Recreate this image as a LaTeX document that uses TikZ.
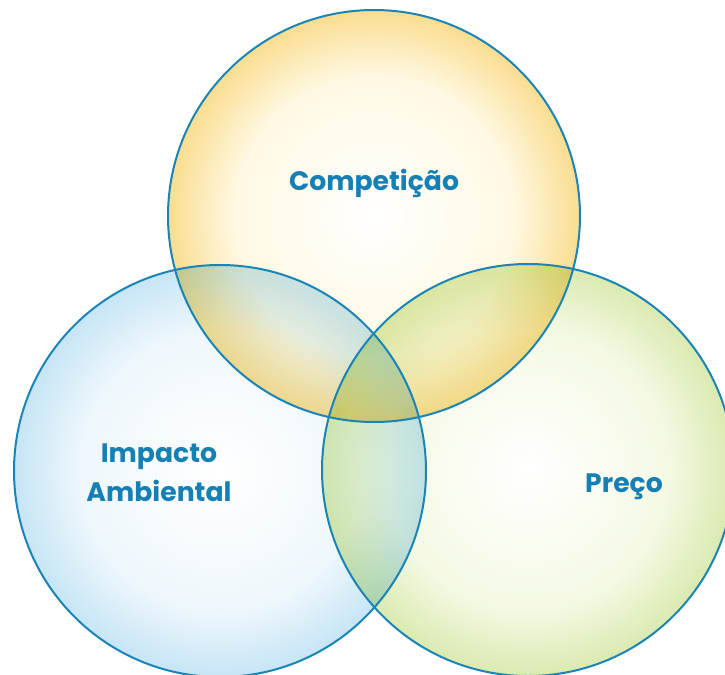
\documentclass[tikz,border=0pt]{standalone}
\usepackage{fontspec}
\setsansfont{Poppins}
\usetikzlibrary{positioning}

\definecolor{rimblue}{HTML}{1A84B6}
\definecolor{txtblue}{HTML}{1680B4}
\definecolor{ylwmid}{HTML}{FFF8E2}
\definecolor{ylwrim}{HTML}{F9DD90}
\definecolor{blumid}{HTML}{EEF7FC}
\definecolor{blurim}{HTML}{C6E5F6}
\definecolor{grnmid}{HTML}{F4F9E4}
\definecolor{grnrim}{HTML}{DAEAB0}

\pgfdeclareradialshading{ylwfill}{\pgfpoint{0bp}{0bp}}{color(0bp)=(white); color(17bp)=(ylwmid); color(25bp)=(ylwrim); color(50bp)=(ylwrim)}
\pgfdeclareradialshading{blufill}{\pgfpoint{0bp}{0bp}}{color(0bp)=(white); color(17bp)=(blumid); color(25bp)=(blurim); color(50bp)=(blurim)}
\pgfdeclareradialshading{grnfill}{\pgfpoint{0bp}{0bp}}{color(0bp)=(white); color(17bp)=(grnmid); color(25bp)=(grnrim); color(50bp)=(grnrim)}

\begin{document}
\begin{tikzpicture}[
		x=0.75pt, y=-0.75pt,
		bubble/.style={circle, inner sep=0, outer sep=0, minimum size=309pt},
		rimline/.style={draw=rimblue, line width=1.5pt},
		lbl/.style={font=\sffamily\bfseries\fontsize{20}{29}\selectfont, text=txtblue, align=center}]

		\useasboundingbox (0,0) rectangle (725,675);

		\begin{scope}[blend mode=multiply]
		\node[bubble, shading=ylwfill] (comp) at (374,216) {};
		\node[bubble, shading=blufill] (imp) at (220,471) {};
		\node[bubble, shading=grnfill] (prc) at (528,470) {};
		\end{scope}

		\draw[rimline] (comp.center) circle[radius=206];
		\draw[rimline] (imp.center) circle[radius=206];
		\draw[rimline] (prc.center) circle[radius=206];

		\node[lbl] (complbl) at (374,183) {Competição};
		\node[lbl] (implbl) at (159,473) {Impacto\\Ambiental};
		\node[lbl] (prclbl) at (624,487) {Preço};

\end{tikzpicture}
\end{document}
